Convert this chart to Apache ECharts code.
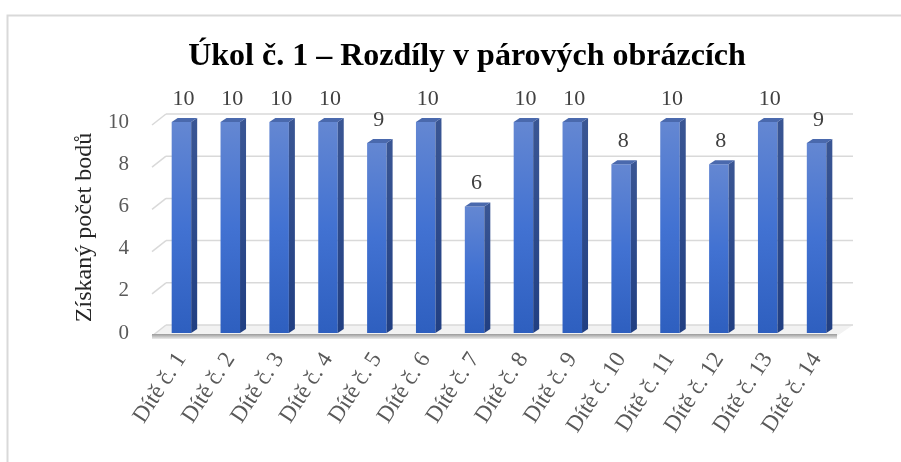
<!DOCTYPE html>
<html>
<head>
<meta charset="utf-8">
<script src="https://cdn.jsdelivr.net/npm/echarts@6/dist/echarts.min.js"></script>
<style>
  html, body { margin: 0; padding: 0; background: #fff; }
  #chart { width: 901px; height: 462px; }
</style>
</head>
<body>
<div id="chart"></div>
<script>
const titleText = "Úkol č. 1 – Rozdíly v párových obrázcích";
const yName = "Získaný počet bodů";
const categories = ["Dítě č. 1", "Dítě č. 2", "Dítě č. 3", "Dítě č. 4", "Dítě č. 5", "Dítě č. 6", "Dítě č. 7",
  "Dítě č. 8", "Dítě č. 9", "Dítě č. 10", "Dítě č. 11", "Dítě č. 12", "Dítě č. 13", "Dítě č. 14"];
const points = [10, 10, 10, 10, 9, 10, 6, 10, 10, 8, 10, 8, 10, 9];
const yTicks = [0, 2, 4, 6, 8, 10];

const serif = "'Liberation Serif', 'Times New Roman', serif";

// back wall grid + floor, drawn from the axis scale
const renderWall = function (params, api) {
  const v = api.value(0);
  const cw = api.size([1, 0])[0];
  const a = api.coord([0, v]);
  const b = api.coord([categories.length - 1, v]);
  const x0 = a[0] - cw / 2, x1 = b[0] + cw / 2, y = a[1];
  const line = { stroke: '#d9d9d9', lineWidth: 1.5 };
  const children = [
    { type: 'line', shape: { x1: x0 - 5, y1: y + 3, x2: x0 + 9, y2: y - 8 }, style: line },
    { type: 'line', shape: { x1: x0 + 9, y1: y - 8, x2: x1 + 12, y2: y - 8 }, style: line }
  ];
  if (v === 0) {
    children.unshift({
      type: 'polygon',
      shape: { points: [[x0 - 5, y + 3], [x1 - 4, y + 3], [x1 + 12, y - 8], [x0 + 9, y - 8]] },
      style: { fill: '#f2f2f2' }
    });
    children.push({
      type: 'rect',
      shape: { x: x0 - 5, y: y + 1, width: x1 - x0 + 1, height: 5 },
      style: {
        fill: new echarts.graphic.LinearGradient(0, 0, 0, 1, [
          { offset: 0, color: '#9a9a9a' }, { offset: 1, color: '#ececec' }
        ])
      }
    });
  }
  return { type: 'group', children: children };
};

const renderBar = function (params, api) {
  const x = api.value(0), v = api.value(1);
  const p = api.coord([x, v]);
  const base = api.coord([x, 0]);
  const w = 19.5, d = 6, dh = 4;
  const l = p[0] - w / 2, r = p[0] + w / 2;
  return {
    type: 'group',
    children: [
      {
        type: 'rect',
        shape: { x: l, y: p[1], width: w, height: base[1] - p[1] },
        style: {
          fill: new echarts.graphic.LinearGradient(0, 0, 0, 1, [
            { offset: 0, color: '#6487d2' }, { offset: 0.5, color: '#4272d2' }, { offset: 1, color: '#2e5fbf' }
          ])
        }
      },
      {
        type: 'polygon',
        shape: { points: [[r, p[1]], [r + d, p[1] - dh], [r + d, base[1] - dh], [r, base[1]]] },
        style: {
          fill: new echarts.graphic.LinearGradient(0, 0, 0, 1, [
            { offset: 0, color: '#3a5694' }, { offset: 1, color: '#213f82' }
          ])
        }
      },
      {
        type: 'polygon',
        shape: { points: [[l, p[1]], [r, p[1]], [r + d, p[1] - dh], [l + d, p[1] - dh]] },
        style: { fill: '#4a69ad' }
      },
      {
        type: 'text',
        style: {
          text: String(v), x: p[0] + 2, y: p[1] - 23,
          align: 'center', verticalAlign: 'middle',
          font: '22px ' + serif, fill: '#404040'
        }
      }
    ]
  };
};

const chart = echarts.init(document.getElementById('chart'));
chart.setOption({
  animation: false,
  backgroundColor: '#fff',
  graphic: [{
    type: 'rect', silent: true,
    shape: { x: 7.5, y: 15.5, width: 1000, height: 1000 },
    style: { fill: 'none', stroke: '#d9d9d9', lineWidth: 2 }
  }],
  title: {
    text: titleText, left: 462, top: 36, textAlign: 'center',
    textStyle: { fontFamily: serif, fontWeight: 'bold', fontSize: 32, color: '#000' }
  },
  grid: { left: 157, right: 60, top: 122, bottom: 129 },
  xAxis: {
    type: 'category', data: categories,
    axisLine: { show: false }, axisTick: { show: false },
    axisLabel: { rotate: 57, margin: 22, interval: 0, fontFamily: serif, fontSize: 23, color: '#595959' }
  },
  yAxis: {
    type: 'value', min: 0, max: 10, interval: 2,
    name: yName, nameLocation: 'middle', nameRotate: 90, nameGap: 60,
    nameTextStyle: { fontFamily: serif, fontSize: 24, color: '#262626' },
    axisLine: { show: false }, axisTick: { show: false }, splitLine: { show: false },
    axisLabel: { margin: 28, fontFamily: serif, fontSize: 21, color: '#595959' }
  },
  series: [
    {
      type: 'custom', renderItem: renderWall, z: 1,
      encode: { y: 0 },
      data: yTicks.map(v => [v])
    },
    {
      type: 'custom', renderItem: renderBar, z: 2,
      encode: { x: 0, y: 1 },
      data: points.map((v, i) => [i, v])
    }
  ]
});
</script>
</body>
</html>
